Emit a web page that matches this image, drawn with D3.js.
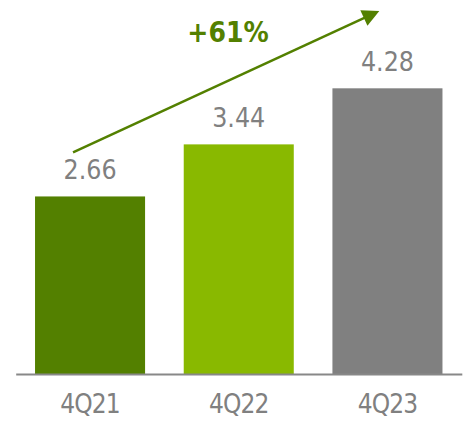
<!DOCTYPE html>
<html>
<head>
<meta charset="utf-8">
<script src="https://cdn.jsdelivr.net/npm/d3@7"></script>
<style>
  html, body { margin: 0; padding: 0; background: #fff; }
  svg { display: block; }
  text { font-family: "DejaVu Sans Condensed", "DejaVu Sans", sans-serif; font-stretch: condensed; }
</style>
</head>
<body>
<script>
const categories = ["4Q21", "4Q22", "4Q23"];
const values = [2.66, 3.44, 4.28];
const barColors = ["#538000", "#89b900", "#808080"];
const growthLabel = "+61%";

const W = 466, H = 421;
const svg = d3.select("body").append("svg").attr("width", W).attr("height", H);

const baseY = 374;
const x = d3.scaleBand().domain(categories).range([15.7, 461.8]).paddingInner(0.26).paddingOuter(0.13);
const y = d3.scaleLinear().domain([0, 5.6]).range([baseY, baseY - 5.6 * 66.75]);

// bars
svg.selectAll("rect.bar").data(values).join("rect")
  .attr("class", "bar")
  .attr("x", (d, i) => x(categories[i]))
  .attr("width", x.bandwidth())
  .attr("y", d => y(d))
  .attr("height", d => y(0) - y(d))
  .attr("fill", (d, i) => barColors[i]);

// value labels
svg.selectAll("text.val").data(values).join("text")
  .attr("class", "val")
  .attr("x", (d, i) => x(categories[i]) + x.bandwidth() / 2)
  .attr("y", d => y(d) - 17)
  .attr("text-anchor", "middle")
  .attr("font-size", 26.5)
  .attr("fill", "#808080")
  .text(d => d.toFixed(2));

// axis line
const xAxis = d3.axisBottom(x).tickSize(0).tickPadding(21);
const gx = svg.append("g").attr("transform", `translate(0,${baseY})`).call(xAxis);
gx.select(".domain").attr("stroke", "#888888").attr("stroke-width", 1.8);
gx.selectAll(".tick text")
  .attr("font-size", 26)
  .attr("fill", "#808080")
  .attr("dy", "0.71em")
  .attr("letter-spacing", -0.9)
  .style("font-family", "'DejaVu Sans Condensed', 'DejaVu Sans', sans-serif")
  .style("font-stretch", "condensed");

// growth arrow
const arrowColor = "#538000";
const defs = svg.append("defs");
defs.append("marker")
  .attr("id", "arrowhead")
  .attr("viewBox", "0 0 10 10")
  .attr("refX", 1).attr("refY", 5)
  .attr("markerUnits", "userSpaceOnUse")
  .attr("markerWidth", 19).attr("markerHeight", 17)
  .attr("orient", "auto")
  .append("path").attr("d", "M0,0 L10,5 L0,10 Z").attr("fill", arrowColor);

const start = [x(categories[0]) + 38, y(values[0]) - 44];
const end = [x(categories[2]) + 33, y(values[2]) - 71];
svg.append("line")
  .attr("x1", start[0]).attr("y1", start[1])
  .attr("x2", end[0]).attr("y2", end[1])
  .attr("stroke", arrowColor).attr("stroke-width", 2.5)
  .attr("marker-end", "url(#arrowhead)");

svg.append("text")
  .attr("x", 228)
  .attr("y", 41.5)
  .attr("text-anchor", "middle")
  .attr("font-size", 28)
  .attr("font-weight", "bold")
  .attr("fill", arrowColor)
  .text(growthLabel);
</script>
</body>
</html>
